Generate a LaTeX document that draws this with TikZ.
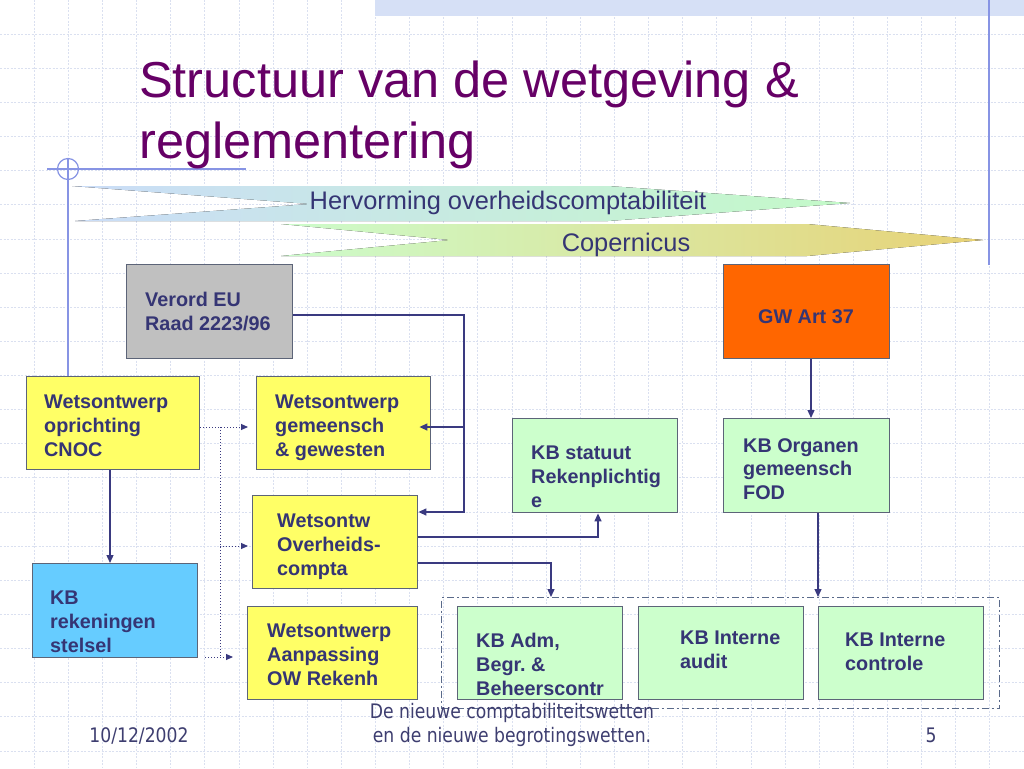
\documentclass[tikz,border=0pt]{standalone}
\usepackage{fontspec}
\setmainfont{Liberation Sans}
\newfontfamily\footfont{DejaVu Sans}
\usetikzlibrary{arrows.meta,calc}
\definecolor{titlepurple}{HTML}{660066}
\definecolor{navy}{HTML}{353574}
\definecolor{linecol}{HTML}{3A3A80}
\definecolor{bordercol}{HTML}{5C6478}
\definecolor{gridcol}{RGB}{218,224,240}
\definecolor{decocol}{RGB}{135,148,228}
\definecolor{bandcol}{RGB}{214,224,246}
\definecolor{boxyellow}{HTML}{FFFF66}
\definecolor{boxgreen}{HTML}{CCFFCC}
\definecolor{boxgray}{HTML}{C0C0C0}
\definecolor{boxorange}{HTML}{FF6600}
\definecolor{boxblue}{HTML}{66CCFF}
\definecolor{footcol}{HTML}{3E3E70}
\definecolor{grpcol}{HTML}{5A6A8A}
\definecolor{bOneL}{RGB}{202,220,248}
\definecolor{bOneM}{RGB}{202,236,228}
\definecolor{bOneR}{RGB}{196,250,200}
\definecolor{bTwoL}{RGB}{204,252,204}
\definecolor{bTwoM}{RGB}{218,240,168}
\definecolor{bTwoR}{RGB}{232,210,118}
\tikzset{
  gridline/.style={draw=gridcol, line width=0.8pt, dash pattern=on 2pt off 1.5pt},
  deco/.style={draw=decocol, line width=1.2pt},
  box/.style={draw=bordercol, line width=1.4pt, rectangle, inner sep=0pt, anchor=north west},
  lbl/.style={anchor=north west, inner sep=0pt, align=left, text=navy,
    font=\fontsize{19.8pt}{23.8pt}\selectfont\bfseries},
  conn/.style={draw=linecol, line width=1.3pt},
  arr/.style={-{Triangle[length=8pt,width=7pt]}},
  dotln/.style={draw=linecol, line width=1pt, dotted},
  darr/.style={-{Triangle[length=7pt,width=6pt]}},
  foot/.style={inner sep=0pt, anchor=base, text=footcol, font=\footfont\fontsize{20pt}{24pt}\selectfont},
  banner/.style={text=navy, inner sep=0pt, anchor=base, font=\fontsize{25.4pt}{30pt}\selectfont}
}
\begin{document}
\begin{tikzpicture}[x=1pt,y=-1pt]
\useasboundingbox (0,0) rectangle (1024,768);
\fill[white] (0,0) rectangle (1024,768);
% grid
\foreach \i in {1,...,29} { \draw[gridline] (\i*34.133,0) -- (\i*34.133,768); }
\foreach \j in {1,...,22} { \draw[gridline] (0,\j*34.133) -- (1024,\j*34.133); }
% top band
\fill[bandcol] (375,0) rectangle (1024,16);
\draw[deco] (989,0) -- (989,265);
% left decoration
\draw[deco] (47,169) -- (246,169);
\draw[deco] (68,169) circle (10.5);
\draw[deco] (68,158) -- (68,376);
% title
\node[anchor=base west, inner sep=0pt, text=titlepurple, font=\fontsize{50.5pt}{60pt}\selectfont] (title1) at (139,97) {Structuur van de wetgeving \&};
\node[anchor=base west, inner sep=0pt, text=titlepurple, font=\fontsize{50.5pt}{60pt}\selectfont] (title2) at (139,158) {reglementering};
% banners
\fill[left color=bOneL, middle color=bOneM, right color=bOneR]
  (72,186) -- (608,186) -- (850,203) -- (608,221) -- (75,221) -- (310,204) -- cycle;
\fill[left color=bTwoL, middle color=bTwoM, right color=bTwoR]
  (281,224) -- (807,224) -- (983,240) -- (807,256) -- (281,256) -- (450,240) -- cycle;
\node[banner] (herv) at (508,209) {Hervorming overheidscomptabiliteit};
\node[banner] (cop) at (626,251) {Copernicus};
% boxes
\node[box, fill=boxgray, minimum width=166pt, minimum height=94pt] (verord) at (126,264) {};
\node[box, fill=boxorange, minimum width=166pt, minimum height=94pt] (gw) at (723,264) {};
\node[box, fill=boxyellow, minimum width=173pt, minimum height=93pt] (cnoc) at (26,376) {};
\node[box, fill=boxyellow, minimum width=174pt, minimum height=93pt] (gem) at (256,376) {};
\node[box, fill=boxgreen, minimum width=165pt, minimum height=94pt] (statuut) at (512,418) {};
\node[box, fill=boxgreen, minimum width=166pt, minimum height=94pt] (organen) at (723,418) {};
\node[box, fill=boxyellow, minimum width=165pt, minimum height=93pt] (overheid) at (252,495) {};
\node[box, fill=boxblue, minimum width=165pt, minimum height=94pt] (kbrek) at (32,563) {};
\node[box, fill=boxyellow, minimum width=170pt, minimum height=93pt] (aanpas) at (247,606) {};
\node[box, draw=grpcol, line width=1pt, dash pattern=on 7pt off 3pt on 2pt off 3pt, minimum width=558pt, minimum height=111pt] (grp) at (441,597) {};
\node[box, fill=boxgreen, minimum width=165pt, minimum height=93pt] (adm) at (457,606) {};
\node[box, fill=boxgreen, minimum width=165pt, minimum height=93pt] (audit) at (638,606) {};
\node[box, fill=boxgreen, minimum width=165pt, minimum height=93pt] (controle) at (818,606) {};
% labels
\node[lbl] (tverord) at (145,292) {Verord EU\\Raad 2223/96};
\node[lbl, anchor=base] (tgw) at (806,323) {GW Art 37};
\node[lbl] (tcnoc) at (44,395) {Wetsontwerp\\oprichting\\CNOC};
\node[lbl] (tgem) at (275,395) {Wetsontwerp\\gemeensch\\\& gewesten};
\node[lbl] (tstatuut) at (531,446) {KB statuut\\Rekenplichtig\\e};
\node[lbl] (torganen) at (743,438) {KB Organen\\gemeensch\\FOD};
\node[lbl] (toverheid) at (277,514) {Wetsontw\\Overheids-\\compta};
\node[lbl] (tkbrek) at (50,591) {KB\\rekeningen\\stelsel};
\node[lbl] (taanpas) at (267,624) {Wetsontwerp\\Aanpassing\\OW Rekenh};
\node[lbl] (tadm) at (476,633) {KB Adm,\\Begr.~\&\\Beheerscontr};
\node[lbl] (taudit) at (680,631) {KB Interne\\audit};
\node[lbl] (tcontrole) at (845,633) {KB Interne\\controle};
% connectors
\coordinate (v1) at (464,315);
\coordinate (v2) at (464,427);
\coordinate (v3) at (464,512);
\draw[conn,arr] (verord.east |- v1) -- (v1) -- (v3) -- (overheid.east |- v3);
\draw[conn,arr] (v2) -- ([xshift=-12pt]gem.east |- v2);
\coordinate (s1) at (598,537);
\draw[conn,arr] (overheid.east |- s1) -| (statuut.south -| s1);
\coordinate (g1) at (551,563);
\draw[conn,arr] (overheid.east |- g1) -| (grp.north -| g1);
\coordinate (o1) at (811,0);
\draw[conn,arr] (gw.south -| o1) -- (organen.north -| o1);
\coordinate (o2) at (818,0);
\draw[conn,arr] (organen.south -| o2) -- (grp.north -| o2);
\coordinate (k1) at (110,0);
\draw[conn,arr] (cnoc.south -| k1) -- (kbrek.north -| k1);
% dotted connectors
\coordinate (d1) at (220,427);
\coordinate (d2) at (220,546);
\coordinate (d3) at (220,657);
\draw[dotln,darr] (cnoc.east |- d1) -- ([xshift=-8pt]gem.west |- d1);
\draw[dotln] (d1) -- (d3);
\draw[dotln,darr] (d2) -- ([xshift=-4pt]overheid.west |- d2);
\draw[dotln,darr] ([xshift=7pt]kbrek.east |- d3) -- ([xshift=-14pt]aanpas.west |- d3);
% footer
\node[foot] (f1) at (512,718) {\scalebox{0.86}[1]{De nieuwe comptabiliteitswetten}};
\node[foot] (f2) at (512,742) {\scalebox{0.86}[1]{en de nieuwe begrotingswetten.}};
\node[foot] (fdate) at (139,742) {\scalebox{0.86}[1]{10/12/2002}};
\node[foot] (fnum) at (931,742) {\scalebox{0.86}[1]{5}};
\end{tikzpicture}
\end{document}
